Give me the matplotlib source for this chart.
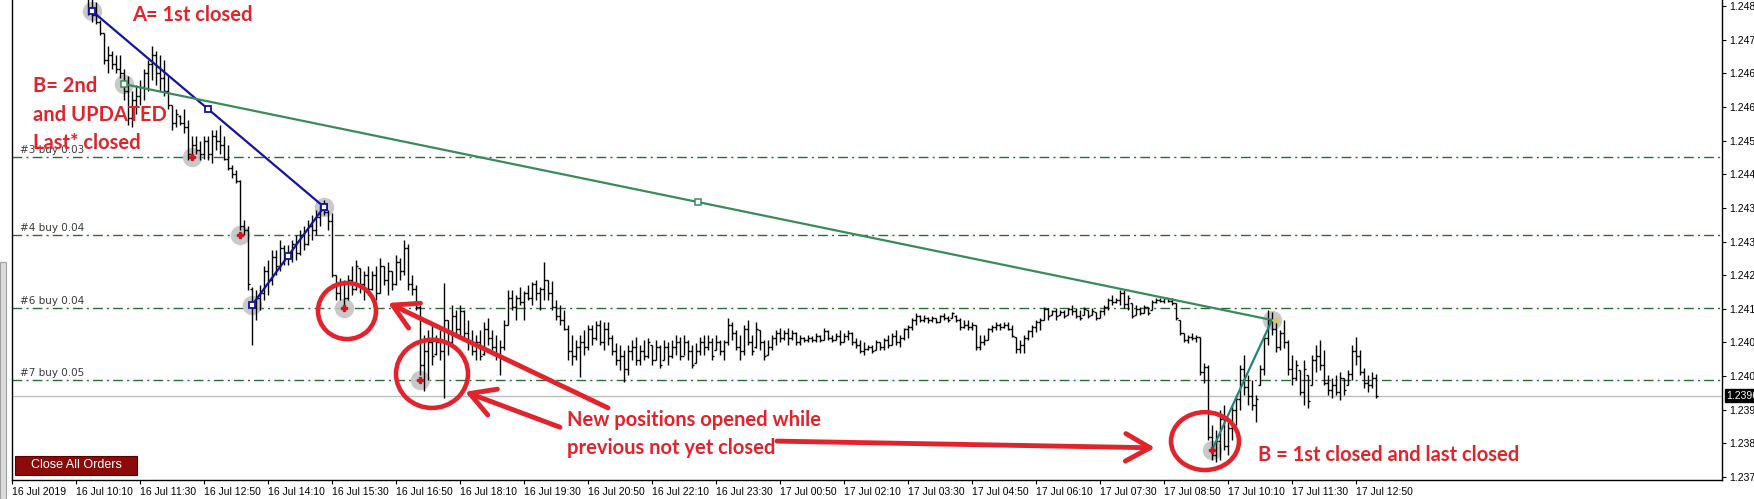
import numpy as np
import matplotlib.pyplot as plt
from matplotlib import font_manager
from matplotlib.collections import LineCollection
from matplotlib.patches import Ellipse, Rectangle
from datetime import datetime

BASE = 1.2378      # lowest level on the price scale
PIP = 0.0001
first_bar = datetime(2019, 7, 16, 10, 25)   # M5 bars

# bar values, pips above BASE
hi = [108, 107, 106, 102, 99, 96, 95, 94, 94, 91,
      89.5, 86, 87.5, 88.5, 91, 93, 96, 95, 94, 93,
      89.5, 83, 82, 80.7, 82, 79.6, 76, 76, 75, 76,
      76, 77.4, 77.4, 78.5, 76, 74, 69.5, 68.5, 66.2, 57.3,
      56, 42.4, 41.7, 42.8, 47, 48.4, 50.6, 50.6, 52.8, 51.7,
      51.7, 52.8, 54, 55, 56, 57.3, 58.4, 59.5, 60.6, 61.8,
      59.5, 58.8, 45, 44.4, 44, 45, 47, 48.4, 46.6, 46,
      47, 46, 47, 48.8, 47, 48, 46, 49.5, 48.8, 52.8,
      52, 45, 42.8, 38.3, 31.6, 32.8, 34, 31.6, 32.8, 43.2,
      35, 38.3, 37.2, 38.3, 37.2, 35, 32.8, 31.6, 32.8, 34.5,
      35.5, 32.8, 31.6, 30.5, 35, 41.7, 41.7, 40.6, 42.4, 41.5,
      42.8, 43.5, 44, 42.4, 48, 44, 43.7, 39.5, 38.3, 37.2,
      34, 31.6, 30.5, 31.6, 32.8, 34, 34, 34.8, 35, 34.5,
      34.5, 31.6, 29.8, 29.5, 28.3, 29.5, 30.5, 31.2, 29.5, 30.5,
      31, 29.5, 30.5, 29.5, 30.5, 30, 30.5, 31.6, 31.2, 31.6,
      30.5, 29.5, 29.8, 31.2, 31.6, 31.6, 31, 31.6, 30.5, 30.5,
      35.5, 34.5, 32.8, 31.6, 34, 35, 31.6, 34.5, 32.8, 30.5,
      30.5, 31.6, 32.8, 33.3, 32.8, 33.3, 32.8, 32.3, 31.6, 31.2,
      31.6, 31.4, 32.1, 31.6, 33.3, 32.8, 31.6, 32.1, 32.8, 32.1,
      32.8, 32.3, 31, 30.5, 30, 29.5, 29.5, 30.5, 30, 31,
      31.6, 32.1, 32.8, 31.6, 33.3, 33.9, 35.5, 36.6, 36.1, 36.1,
      35.7, 35.9, 35.5, 36.1, 36.6, 35.9, 36.8, 36.1, 35.5, 35,
      35, 34.5, 33.9, 31.6, 31.6, 33.3, 33.9, 34.5, 34.3, 34.5,
      34.5, 33.9, 31.2, 30.5, 31.6, 32.8, 33.9, 35, 35.5, 38,
      37.7, 37.2, 37.7, 37.2, 37.2, 37.7, 38.3, 37.7, 37.2, 38,
      37.2, 37.7, 36.8, 37.2, 38.3, 40, 40.6, 40, 41.7, 41.7,
      40.6, 38.8, 38.3, 38, 38.3, 38, 39.5, 40, 39.9, 40,
      39.9, 40, 38.8, 35, 32.1, 31.6, 32.1, 31.6, 31.2, 25.4,
      25, 11.6, 10.5, 14.9, 16, 12.7, 16, 18.3, 25, 27.2,
      22.7, 21.6, 18.3, 25, 31.6, 37.2, 36.8, 34.5, 32.8, 35,
      30.5, 27.2, 26, 23.9, 26, 22.7, 27.2, 29.5, 30.5, 28.3,
      22.7, 22, 22.7, 23.4, 22, 23.9, 29.5, 31.2, 28.3, 24.3,
      22.7, 23.4, 22.9]
lo = [103, 101.5, 101, 98.5, 92, 90, 91, 90, 89, 84,
      78.5, 78, 81, 83, 84, 86, 88.5, 87.5, 86, 85,
      82, 77.4, 78, 78.5, 76.7, 70.7, 70.7, 72, 70.7, 71,
      70.7, 70, 73, 72, 70.7, 68.5, 66.7, 65.5, 55, 54,
      41.7, 29.5, 35, 37.2, 39.5, 40.6, 42.8, 45, 46, 47.3,
      47.3, 48, 48.4, 49.5, 50.6, 51.7, 52.8, 54, 56, 58.4,
      55, 44.5, 39.5, 39.5, 37.2, 39.5, 40.6, 41.7, 41, 39.5,
      40.6, 41.7, 39.5, 41, 42.8, 40.6, 41.7, 42.8, 44, 45,
      41.7, 40.6, 37.2, 22.7, 19.2, 21.6, 25, 27.2, 26, 17.6,
      27.2, 29.5, 31.6, 31.6, 30.5, 28.3, 27.2, 26, 26, 27.2,
      29.5, 28.3, 26, 22.7, 28.3, 34, 37.2, 35, 38.3, 35,
      39.5, 38.3, 39.5, 37.2, 39.5, 39.5, 37.2, 35, 34, 32.8,
      26, 25, 26, 22.2, 27.2, 28.3, 29.5, 30.5, 29.5, 28.3,
      29.5, 27.2, 25, 23.9, 21.2, 22.7, 26, 25, 25, 26,
      26.5, 25, 26, 24.3, 26, 25, 26.5, 27.2, 26, 27.2,
      26, 24.3, 25.5, 27.2, 27.2, 28.3, 26, 28.3, 27.2, 26,
      29.5, 30.5, 28.3, 26, 27.2, 29.5, 27.2, 28.8, 28.3, 26,
      27.2, 28.3, 29.5, 30.1, 30.5, 29.5, 30.5, 29.5, 29.5, 30.1,
      30.1, 30.1, 30.1, 30.1, 30.5, 30.5, 30.1, 30.5, 29.5, 30.1,
      30.5, 29.5, 28.8, 27.7, 27.2, 28.3, 27.7, 28.3, 28.3, 28.3,
      28.8, 29.5, 29.5, 29, 30.5, 31, 32.8, 33.9, 34.5, 34.5,
      34.3, 34.5, 34.3, 34.5, 35, 34.5, 35.5, 34.5, 32.8, 33.3,
      32.8, 32.8, 28.3, 28.3, 29.5, 30.5, 32.3, 32.8, 32.8, 33.3,
      32.8, 31.2, 27.7, 27.7, 27.7, 30.5, 31.2, 32.3, 32.8, 35,
      35, 36.1, 35, 36.1, 35.5, 36.1, 36.1, 35.5, 35, 36.1,
      35.5, 36.1, 35, 35.5, 36.1, 37.2, 38.3, 38.8, 38.3, 37.7,
      37.2, 35.5, 36.1, 36.1, 36.6, 36.1, 37.2, 38.8, 39, 38.8,
      39, 38.3, 35, 31.6, 30.1, 29.9, 30.5, 30.1, 22.7, 21,
      8.2, 3.8, 3.3, 3.8, 6, 4.9, 8.2, 11.6, 14.9, 18.3,
      16, 14.9, 12.3, 20.5, 22.7, 29.5, 31.6, 27.9, 28.3, 28.8,
      22.7, 20.5, 21.6, 18.3, 16, 15.4, 20.5, 23.5, 23.9, 20.5,
      18.3, 17.6, 18.3, 17.2, 18.3, 20.5, 21.6, 25, 22.7, 19.8,
      18.9, 19.8, 17.6]
op = [107.5, 104, 103, 101.5, 99, 93, 94, 92, 91, 90,
      86, 80, 84, 85, 87, 90, 92, 94, 90, 89,
      86, 83, 79, 80.5, 79, 78, 72, 74, 73, 72,
      75, 72, 76, 75, 74, 71, 69, 67.5, 66, 56,
      55, 42, 38, 40, 41, 46, 44, 49, 47, 51,
      49, 50, 52, 50, 54, 52, 56, 55, 58, 60,
      59, 57, 45, 41, 43, 40, 44, 42, 46.5, 43,
      45, 42, 45, 41, 47, 44, 46, 43, 48, 46,
      51, 43, 42, 38, 25, 28, 30, 27.5, 30, 28,
      35, 30, 36, 33, 37, 32, 30, 28, 30, 27.5,
      33, 31, 29, 27, 29, 34, 40, 38, 40, 39,
      41, 40, 43, 41, 42, 44, 41, 38, 36, 35,
      33, 28, 27, 29, 30, 29, 33, 31, 34, 30,
      33, 31, 28, 26, 27, 24, 28, 29, 26, 28,
      27, 29.5, 26, 29, 26, 29, 27, 29, 30, 27,
      30, 28, 25.5, 28, 30, 29, 30, 28.3, 30, 28,
      30, 34, 32, 29, 28, 33, 30, 29, 32.8, 30,
      27.2, 29, 31, 32, 31, 32, 31, 32, 30, 31,
      30.5, 31, 30.5, 31.5, 30.5, 32.5, 31, 30.5, 31.5, 30.1,
      31.5, 32, 30, 29.5, 28, 28.5, 29, 28.3, 30, 29,
      30.5, 29.5, 31.5, 30, 31, 33, 33.5, 35, 36, 35,
      35.5, 35, 35.5, 34.5, 36, 35.5, 35.5, 36, 35, 33.5,
      34, 33.5, 33.9, 29, 30, 30.5, 33, 33.5, 34, 33.5,
      34, 33, 31.2, 28.5, 29.5, 31, 32.5, 33.5, 34.5, 35,
      37.5, 36.1, 37, 36.1, 36.8, 36.1, 37.5, 37, 36, 36.1,
      37.2, 36.1, 36.8, 35.5, 37, 38, 39.5, 39, 39.5, 41,
      38.5, 38.8, 36.1, 37.5, 36.6, 38, 37.2, 39, 39.5, 39.2,
      39.8, 39.3, 38.8, 35, 32, 30.5, 31.2, 31, 31.2, 23.5,
      24.5, 9, 5, 8, 13, 7, 11, 15, 17.5, 24,
      20, 18, 16, 20.5, 24, 31, 35, 33, 29, 32,
      30, 24, 22, 23.9, 19, 22.7, 20.5, 26, 27, 25,
      21, 19.5, 20.5, 19, 22, 20.5, 23, 28, 27, 23.5,
      21, 20.5, 22]
cl = [104, 103, 101.5, 99, 93, 94, 92, 91, 90, 86,
      80, 84, 85, 87, 90, 92, 94, 90, 89, 86,
      83, 79, 81, 79, 78, 72, 74, 73, 72, 75,
      72, 76, 75, 74, 71, 69, 67.5, 66, 56, 55,
      43, 38, 40, 41, 46, 44, 49, 47, 51, 49,
      50, 52, 50, 54, 52, 56, 55, 58, 60, 59,
      57, 45, 41, 43, 40, 44, 42, 47, 43, 45,
      42, 45, 41, 47, 44, 46, 43, 48, 46, 51,
      43, 42, 38, 25, 28, 30, 27, 30, 28, 35,
      30, 36, 33, 37, 32, 30, 28, 30, 27, 33,
      31, 29, 27, 29, 34, 40, 38, 40, 39, 41,
      40, 43, 41, 42, 44, 41, 38, 36, 35, 33,
      28, 27, 29, 30, 29, 33, 31, 34, 30, 33,
      31, 28, 26, 27, 24, 28, 29, 26, 28, 27,
      30, 26, 29, 25, 29, 27, 29, 30, 27, 30,
      28, 25, 28, 30, 29, 30, 27, 30, 28, 30,
      34, 32, 29, 28, 33, 30, 28, 33, 30, 27,
      29, 31, 32, 31, 32, 31, 32, 30, 31, 30.5,
      31, 30.5, 31.5, 30.5, 32.5, 31, 30.5, 31.5, 30, 31.5,
      32, 30, 29.5, 28, 28.5, 29, 28, 30, 29, 30.5,
      29.5, 31.5, 30, 31, 33, 33.5, 35, 36, 35, 35.5,
      35, 35.5, 34.5, 36, 35.5, 35, 36.5, 35, 33.5, 34,
      33.5, 34, 29, 30, 30.5, 33, 33.5, 34, 33.5, 34,
      33, 31.5, 28.5, 29.5, 31, 32.5, 33.5, 34.5, 35, 37.5,
      36, 37, 36, 36.8, 36, 37.5, 37, 36, 35.5, 37.5,
      36, 37, 35.5, 37, 38, 39.5, 39, 39.5, 41, 38.5,
      40, 36, 37.5, 36.5, 38, 36.5, 39, 39.5, 39.2, 39.8,
      39.3, 38.8, 35.5, 32, 30.5, 31.2, 31, 31.3, 23.5, 24.5,
      9, 5, 8, 13, 7, 11, 15, 17.5, 24, 20,
      18, 16, 17.5, 24, 31, 35, 33, 29, 32, 30,
      24, 22, 25, 19, 24, 17, 26, 27, 25, 21,
      19.5, 20.5, 19, 22, 19.5, 23, 28, 27, 23.5, 21,
      20.5, 22, 18.1]

price_ticks = ['1.2378', '1.2386', '1.2393', '1.2401', '1.2408', '1.2416', '1.2423', '1.2431',
               '1.2438', '1.2446', '1.2453', '1.2461', '1.2468', '1.2476', '1.2483']
tick_step = 0.00075
time_ticks = ['16 Jul 10:10', '16 Jul 11:30', '16 Jul 12:50', '16 Jul 14:10', '16 Jul 15:30',
              '16 Jul 16:50', '16 Jul 18:10', '16 Jul 19:30', '16 Jul 20:50', '16 Jul 22:10',
              '16 Jul 23:30', '17 Jul 00:50', '17 Jul 02:10', '17 Jul 03:30', '17 Jul 04:50',
              '17 Jul 06:10', '17 Jul 07:30', '17 Jul 08:50', '17 Jul 10:10', '17 Jul 11:30',
              '17 Jul 12:50']

# pending buy orders
orders = ['#3 buy 0.03', '#4 buy 0.04', '#6 buy 0.04', '#7 buy 0.05']
order_price = [1.24493, 1.24320, 1.24157, 1.23996]
# trade markers (bar index, price)
mark_bar = [1, 9, 26, 38, 41, 59, 64, 83, 281, 296]
mark_price = [1.24819, 1.24656, 1.24493, 1.24320, 1.24163, 1.24382, 1.24157, 1.23996, 1.23840, 1.24130]
red_mark = [26, 38, 41, 64, 83, 281]

RED = '#E3232B'

names = {f.name for f in font_manager.fontManager.ttflist}
ann_font = 'Lato' if 'Lato' in names else 'DejaVu Sans'
tick_font = 'Liberation Sans Narrow' if 'Liberation Sans Narrow' in names else 'Liberation Sans'

H = BASE + np.array(hi) * PIP
L = BASE + np.array(lo) * PIP
O = BASE + np.array(op) * PIP
C = BASE + np.array(cl) * PIP
idx = np.arange(len(hi))

fig = plt.figure(figsize=(17.54, 4.99), dpi=100)
ax = fig.add_axes([12 / 1754, 19 / 499, 1710 / 1754, 480 / 499])
ax.set_xlim(-19, 408.5)
ax.set_ylim(1.237733, 1.248435)

# order lines
for name, p in zip(orders, order_price):
    ax.axhline(p, color='#2B6B35', lw=1.0, dashes=(7, 3, 1.5, 3), zorder=1)
    ax.text(-17, p + 0.00005, name, fontsize=7.5, color='#3a3a3a', family='DejaVu Sans',
            va='bottom', ha='left', zorder=2)

# current price line
ax.axhline(C[-1], color='#BDBDBD', lw=1.0, zorder=1)

# OHLC bars
segs = []
for i in idx:
    segs.append([(i, L[i]), (i, H[i])])
    segs.append([(i - 0.45, O[i]), (i, O[i])])
    segs.append([(i, C[i]), (i + 0.45, C[i])])
ax.add_collection(LineCollection(segs, colors='black', linewidths=1.0, zorder=3))

# trade markers
ax.plot(mark_bar, mark_price, 'o', ms=14, color='#C4C4C4', alpha=0.9, zorder=2, mec='none')
rb = [mark_bar.index(b) for b in red_mark]
ax.plot([mark_bar[k] for k in rb], [mark_price[k] for k in rb], 'P', ms=5, color='#D0141C', zorder=6)

# trend lines between trades
blue = '#1414A0'
for a, b in [(0, 5), (4, 5)]:
    xs = [mark_bar[a], mark_bar[b]]
    ys = [mark_price[a], mark_price[b]]
    ax.plot(xs, ys, color=blue, lw=1.6, zorder=5)
    ax.plot(xs + [np.mean(xs)], ys + [np.mean(ys)], 's', ms=5, mfc='white', mec=blue, mew=1.3, zorder=6)
gx = [mark_bar[1], mark_bar[9]]
gy = [mark_price[1], mark_price[9]]
ax.plot(gx, gy, color='#3A8A5C', lw=1.6, zorder=5)
ax.plot([gx[0], np.mean(gx)], [gy[0], np.mean(gy)], 's', ms=4, mfc='white', mec='#3A8A5C', mew=1.1, zorder=6)
ax.plot([mark_bar[8], mark_bar[9]], [mark_price[8], mark_price[9]], color='#21857A', lw=1.6, zorder=5)
ax.plot(mark_bar[9] + 0.8, mark_price[9], '<', ms=5, color='#D8C870', zorder=6)

# hand drawn notes
def note(x, y, s):
    ax.text(x, y, s, color=RED, fontsize=14.5, fontweight='bold', family=ann_font,
            ha='left', va='center', zorder=8)

note(11, 1.2481, 'A= 1st closed')
note(-13.75, 1.24652, 'B= 2nd')
note(-13.75, 1.24587, 'and UPDATED')
note(-13.75, 1.24525, 'Last* closed')
note(119.75, 1.23907, 'New positions opened while')
note(119.75, 1.23845, 'previous not yet closed')
note(292.5, 1.23829, 'B = 1st closed and last closed')

for cx, cy, w, h in [(64.75, 1.24150, 14.5, 0.00125), (86, 1.24010, 18, 0.00152),
                     (279.25, 1.23860, 17, 0.00129)]:
    ax.add_patch(Ellipse((cx, cy), w, h, fill=False, ec=RED, lw=3.3, zorder=7))

for tail, tip in [((130, 1.23934), (75, 1.24168)), ((118, 1.23891), (94.25, 1.23970)),
                  ((172.25, 1.23860), (266.75, 1.23845))]:
    ax.annotate('', xy=tip, xytext=tail, zorder=7,
                arrowprops=dict(arrowstyle='->,head_length=0.8,head_width=0.45', color=RED,
                                lw=3.5, shrinkA=0, shrinkB=0, mutation_scale=22))

# axes styling
ax.spines['top'].set_visible(False)
for s in ['left', 'right', 'bottom']:
    ax.spines[s].set_color('black')
    ax.spines[s].set_linewidth(1.0)

ax.yaxis.tick_right()
ax.set_yticks(BASE + np.arange(len(price_ticks)) * tick_step)
ax.set_yticklabels(price_ticks, fontsize=7.5, family=tick_font)
ax.tick_params(axis='y', direction='out', length=3, pad=2)

t_pos = [(datetime.strptime('2019 ' + t, '%Y %d %b %H:%M') - first_bar).total_seconds() / 300
         for t in time_ticks]
ax.set_xticks([-19] + t_pos)
ax.set_xticklabels(['16 Jul 2019'] + time_ticks, fontsize=7.5, family=tick_font, ha='left')
ax.tick_params(axis='x', direction='out', length=3, pad=2)

# current price tag
ax.annotate('%.4f' % C[-1], xy=(1.0, C[-1]), xycoords=('axes fraction', 'data'),
            xytext=(3, 0), textcoords='offset points', va='center', ha='left',
            fontsize=7.5, family=tick_font, color='white',
            bbox=dict(boxstyle='square,pad=0.15', fc='black', ec='black'), zorder=10,
            annotation_clip=False)

# window frame and button
fig.add_artist(Rectangle((0, 0), 6 / 1754, 237 / 499, transform=fig.transFigure,
                         fc='#DCDCDC', ec='#A0A0A0', lw=0.8))
fig.add_artist(Rectangle((15 / 1754, 24 / 499), 122 / 1754, 19 / 499, transform=fig.transFigure,
                         fc='#8C0A0A', ec='#5a0000', lw=0.8))
fig.text(76 / 1754, 33.5 / 499, 'Close All Orders', color='white', fontsize=9,
         family='Liberation Sans', ha='center', va='center')

fig.savefig('out.png', dpi=100, facecolor='white')
